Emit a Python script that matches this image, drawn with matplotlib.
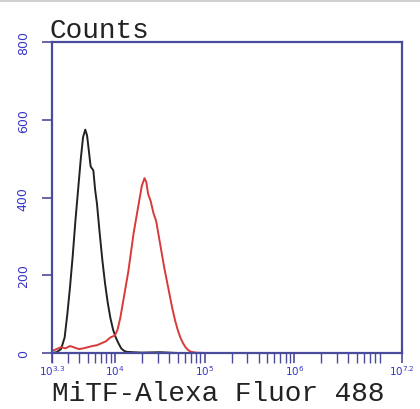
import matplotlib
matplotlib.use('Agg')
import matplotlib.pyplot as plt
from matplotlib.patches import Rectangle

# log10 of fluorescence, counts
black_lg = [3.30, 3.35, 3.40, 3.44, 3.47, 3.50, 3.53, 3.56, 3.59, 3.62, 3.645, 3.67, 3.69,
            3.71, 3.73, 3.76, 3.78, 3.80, 3.83, 3.86, 3.89, 3.92, 3.95, 3.98, 4.01, 4.04,
            4.07, 4.10, 4.13, 4.20, 4.30, 4.50, 4.70]
black_counts = [0, 2, 10, 40, 100, 170, 250, 340, 420, 500, 555, 575, 560,
                520, 480, 470, 420, 385, 310, 240, 180, 130, 90, 60, 40, 25,
                12, 6, 3, 2, 1, 2, 0]

red_lg = [3.30, 3.35, 3.40, 3.45, 3.50, 3.55, 3.60, 3.65, 3.70, 3.75, 3.80, 3.85, 3.90,
          3.95, 4.00, 4.03, 4.06, 4.09, 4.12, 4.15, 4.18, 4.21, 4.24, 4.27, 4.30, 4.33,
          4.35, 4.37, 4.40, 4.43, 4.46, 4.49, 4.52, 4.55, 4.58, 4.61, 4.64, 4.67, 4.70,
          4.73, 4.76, 4.79, 4.82, 4.85, 4.90, 5.00]
red_counts = [5, 10, 15, 12, 18, 14, 10, 12, 15, 18, 20, 25, 30,
              40, 45, 60, 90, 130, 170, 210, 260, 310, 350, 390, 430, 450,
              440, 410, 390, 360, 340, 300, 260, 220, 185, 150, 115, 85, 60,
              40, 25, 14, 7, 3, 1, 0]

y_ticks = [0, 200, 400, 600, 800]
x_ticks_lg = [3.3, 4, 5, 6, 7.2]
x_labels = [r'$10^{3.3}$', r'$10^{4}$', r'$10^{5}$', r'$10^{6}$', r'$10^{7.2}$']

blue = '#3535c8'
spine = '#4b4b9c'

fig = plt.figure(figsize=(4.2, 4.1), dpi=100)
ax = fig.add_axes([0.124, 0.1366, 0.833, 0.758])

ax.plot([10 ** v for v in black_lg], black_counts, color='#222222', lw=1.4)
ax.plot([10 ** v for v in red_lg], red_counts, color='#d83a3a', lw=1.4)

ax.set_xscale('log')
ax.set_xlim(10 ** 3.3, 10 ** 7.2)
ax.set_ylim(0, 800)

for s in ax.spines.values():
    s.set_color(spine)
    s.set_linewidth(1.6)

ax.set_yticks(y_ticks)
ax.set_yticklabels([str(v) for v in y_ticks], rotation=90, va='center',
                   color=blue, fontsize=9)
ax.tick_params(axis='y', length=7, width=1.2, color=spine, pad=9)

ax.set_xticks([10 ** v for v in x_ticks_lg])
ax.set_xticklabels(x_labels, color=blue, fontsize=7.5)
ax.tick_params(axis='x', which='major', length=7, width=1.2, color=spine, pad=0)
ax.tick_params(axis='x', which='minor', length=7, width=1.0, color=spine)

fig.text(0.119, 0.907, 'Counts', family='Liberation Mono', fontsize=20,
         color='#222222', va='baseline')
fig.text(0.124, 0.023, 'MiTF-Alexa Fluor 488', family='Liberation Mono', fontsize=20,
         color='#222222', va='baseline')

fig.add_artist(Rectangle((0, 0.992), 1, 0.008, transform=fig.transFigure,
                         color='#d0d0d0', lw=0))

fig.savefig('out.png', dpi=100)
